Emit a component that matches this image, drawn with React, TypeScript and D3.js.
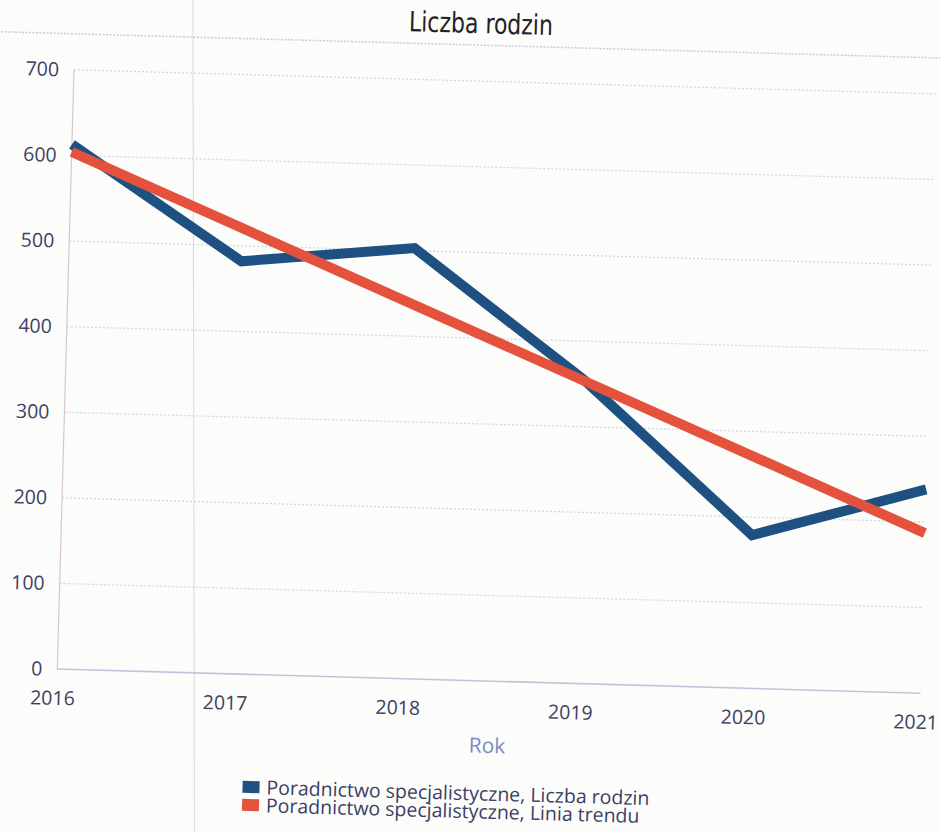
import React from "react";
import * as d3 from "d3";

const years = [2016, 2017, 2018, 2019, 2020, 2021];
const familyCounts = [613, 482, 503, 355, 179, 238];
const trendYears = [2016, 2021];
const trendValues = [604, 187];
const yTicks = [0, 100, 200, 300, 400, 500, 600, 700];
const legendLabels = [
  "Poradnictwo specjalistyczne, Liczba rodzin",
  "Poradnictwo specjalistyczne, Linia trendu",
];
const title = "Liczba rodzin";
const xTitle = "Rok";

const W = 940;
const H = 832;
const BLUE = "#1e5182";
const RED = "#e4523d";

export default function App() {
  const x = d3.scaleLinear().domain([2016, 2021]).range([64.5, 928]);
  const y = d3.scaleLinear().domain([0, 700]).range([680.5, 81]);

  const line = d3
    .line<[number, number]>()
    .x((d) => x(d[0]))
    .y((d) => y(d[1]));

  const bluePath = line(years.map((yr, i) => [yr, familyCounts[i]]) as [number, number][]) || "";
  const redPath = line(trendYears.map((yr, i) => [yr, trendValues[i]]) as [number, number][]) || "";

  const textFont = "'Open Sans', 'Noto Sans', sans-serif";

  return (
    <svg
      width={W}
      height={H}
      viewBox={`0 0 ${W} ${H}`}
      style={{ position: "absolute", left: 0, top: 0, background: "#fcfcfb" }}
    >
      <rect x={0} y={0} width={W} height={H} fill="#fcfcfb" />
      {/* faint page line in background */}
      <line x1={193} y1={0} x2={194.5} y2={H} stroke="#dcdde8" strokeWidth={1.2} />
      <g transform="rotate(1.6, 470, 416)">
        {/* title */}
        <text
          x={470}
          y={33}
          textAnchor="middle"
          fontFamily="'Liberation Sans Narrow', 'DejaVu Sans Condensed', 'DejaVu Sans', sans-serif"
          fontSize={28}
          fill="#222"
          textLength={144}
          lengthAdjust="spacingAndGlyphs"
        >
          {title}
        </text>
        <line x1={-20} y1={45} x2={980} y2={45} stroke="#c9ccd8" strokeWidth={1.5} strokeDasharray="2 1.5" />

        {/* gridlines */}
        {yTicks.slice(1).map((t) => (
          <line
            key={"g" + t}
            x1={x(2016)}
            x2={x(2021)}
            y1={y(t)}
            y2={y(t)}
            stroke="#cadae4"
            strokeWidth={1.3}
            strokeDasharray="2 2"
          />
        ))}
        {/* axes */}
        <line x1={x(2016)} x2={x(2016)} y1={y(700)} y2={y(0)} stroke="#d9c4d8" strokeWidth={1.2} />
        <line x1={x(2016)} x2={x(2021)} y1={y(0)} y2={y(0)} stroke="#c6c1da" strokeWidth={1.6} />

        {/* y tick labels */}
        {yTicks.map((t) => (
          <text
            key={"yt" + t}
            x={x(2016) - 15}
            y={y(t)}
            dy="0.35em"
            textAnchor="end"
            fontFamily={textFont}
            fontSize={19.5}
            fill="#3c4062"
          >
            {t}
          </text>
        ))}
        {/* x tick labels */}
        {years.map((yr) => (
          <text
            key={"xt" + yr}
            x={x(yr) - 4}
            y={y(0) + 29}
            dy="0.35em"
            textAnchor="middle"
            fontFamily={textFont}
            fontSize={19.5}
            fill="#3c4062"
          >
            {yr}
          </text>
        ))}
        <text
          x={(x(2016) + x(2021)) / 2}
          y={745}
          dy="0.35em"
          textAnchor="middle"
          fontFamily={textFont}
          fontSize={21}
          fill="#7a8cc6"
        >
          {xTitle}
        </text>

        {/* series */}
        <path d={bluePath} fill="none" stroke={BLUE} strokeWidth={10} strokeLinejoin="miter" />
        <path d={redPath} fill="none" stroke={RED} strokeWidth={10} />

        {/* legend */}
        {legendLabels.map((lab, i) => (
          <g key={lab} transform={`translate(253, ${800 + i * 18})`}>
            <rect x={0} y={-13} width={17} height={12} fill={i === 0 ? BLUE : RED} />
            <text
              x={24}
              y={0}
              fontFamily={textFont}
              fontSize={19.5}
              fill="#3a3f66"
            >
              {lab}
            </text>
          </g>
        ))}
      </g>
    </svg>
  );
}
